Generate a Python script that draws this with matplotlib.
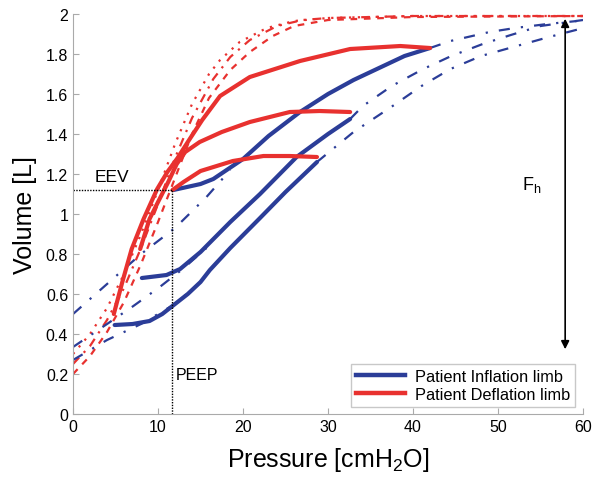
import matplotlib
matplotlib.use("Agg")
import matplotlib.pyplot as plt

plt.rcParams["font.family"] = ["Liberation Sans", "DejaVu Sans"]
plt.rcParams["mathtext.fontset"] = "custom"
plt.rcParams["mathtext.rm"] = "Liberation Sans"

blue = "#2b3d98"
red = "#e8312f"

# measured inflation limbs (pressure cmH2O, volume L)
infl_low_p = [4.9, 7, 9, 10.5, 12, 13.5, 15, 16.1, 18.5, 22, 25, 28.7]
infl_low_v = [0.445, 0.45, 0.465, 0.5, 0.55, 0.6, 0.66, 0.72, 0.83, 0.98, 1.11, 1.26]
infl_mid_p = [8.1, 11, 12.6, 15, 18.5, 22, 26.3, 30, 32.6]
infl_mid_v = [0.68, 0.695, 0.725, 0.81, 0.96, 1.1, 1.285, 1.4, 1.475]
infl_top_p = [11.8, 15, 16.5, 20, 23, 26.7, 30, 33, 36.5, 39, 42]
infl_top_v = [1.12, 1.15, 1.175, 1.275, 1.39, 1.51, 1.6, 1.67, 1.74, 1.79, 1.83]

# measured deflation limbs
defl_top_p = [42, 38.5, 32.6, 26.7, 20.8, 17.3, 15.2, 13.5, 12.3, 11.1, 9.9, 8.3, 6.9, 5.8, 4.8]
defl_top_v = [1.83, 1.84, 1.825, 1.765, 1.685, 1.59, 1.47, 1.36, 1.28, 1.21, 1.125, 0.975, 0.825, 0.66, 0.5]
defl_mid_p = [32.6, 29, 25.5, 20.8, 17.5, 14.9, 13.2, 12.2, 11.2, 10, 9, 7.9]
defl_mid_v = [1.51, 1.515, 1.51, 1.46, 1.41, 1.36, 1.31, 1.25, 1.16, 1.06, 0.975, 0.825]
defl_low_p = [28.7, 25.5, 22.4, 18.8, 15, 13, 11.7]
defl_low_v = [1.285, 1.29, 1.29, 1.265, 1.215, 1.16, 1.12]

# model curves (dashed / dash-dot)
mod_infl1_p = [0, 4, 8, 12, 15.7, 18.5]
mod_infl1_v = [0.5, 0.65, 0.8, 0.93, 1.085, 1.22]
mod_infl2_p = [0, 4, 7.1, 10.2, 12.9, 15.7]
mod_infl2_v = [0.335, 0.45, 0.54, 0.635, 0.725, 0.83]
mod_infl3_p = [0, 2, 4, 8, 12, 15]
mod_infl3_v = [0.27, 0.32, 0.37, 0.45, 0.55, 0.66]

ext_top_p = [42, 44.4, 49, 52, 55.8, 59.3]
ext_top_v = [1.83, 1.865, 1.91, 1.93, 1.95, 1.965]
ext_mid_p = [32.6, 34.1, 37.5, 41.2, 44.5, 48.2, 51.5, 55, 60]
ext_mid_v = [1.475, 1.54, 1.64, 1.725, 1.79, 1.85, 1.895, 1.94, 1.97]
ext_low_p = [28.7, 33, 37.6, 41, 44.4, 48, 52.2, 56, 59.6]
ext_low_v = [1.26, 1.41, 1.54, 1.64, 1.725, 1.79, 1.84, 1.885, 1.925]

mod_def1_p = [0, 2, 4, 6, 8, 10, 12, 14, 16, 17.3, 19.6, 22.8, 26, 30, 40, 60]
mod_def1_v = [0.3, 0.4, 0.53, 0.7, 0.9, 1.12, 1.35, 1.55, 1.7, 1.77, 1.86, 1.93, 1.965, 1.98, 1.99, 1.99]
mod_def2_p = [0, 2, 4, 6, 8, 10, 12, 14, 16.5, 18.5, 20.8, 24, 27, 30, 40, 60]
mod_def2_v = [0.25, 0.34, 0.47, 0.63, 0.83, 1.05, 1.28, 1.48, 1.675, 1.785, 1.87, 1.94, 1.97, 1.98, 1.99, 1.99]
mod_def3_p = [0, 2, 4, 6, 8, 10, 12, 14, 16, 18.5, 20.8, 23.5, 26, 30, 40, 60]
mod_def3_v = [0.2, 0.29, 0.41, 0.56, 0.75, 0.96, 1.18, 1.4, 1.58, 1.72, 1.81, 1.89, 1.94, 1.97, 1.985, 1.99]

peep = 11.7
eev = 1.12
fh_p = 57.9
fh_v = [0.31, 1.99]

fig = plt.figure(figsize=(6, 4.89), dpi=100)
ax = fig.add_axes([0.1217, 0.1513, 0.85, 0.818])

# model curves
ax.plot(mod_def1_p, mod_def1_v, color=red, lw=1.6, linestyle=(0, (1, 3)))
ax.plot(mod_def2_p, mod_def2_v, color=red, lw=1.6, linestyle=(0, (4, 3, 1, 3)))
ax.plot(mod_def3_p, mod_def3_v, color=red, lw=1.6, linestyle=(0, (3, 3)))
for p, v in [(mod_infl1_p, mod_infl1_v), (mod_infl2_p, mod_infl2_v), (mod_infl3_p, mod_infl3_v),
             (ext_top_p, ext_top_v), (ext_mid_p, ext_mid_v), (ext_low_p, ext_low_v)]:
    ax.plot(p, v, color=blue, lw=1.6, linestyle=(0, (5, 5, 1, 5)))

# measured limbs
for p, v in [(infl_low_p, infl_low_v), (infl_mid_p, infl_mid_v), (infl_top_p, infl_top_v)]:
    ax.plot(p, v, color=blue, lw=3.0, solid_capstyle="round")
for p, v in [(defl_top_p, defl_top_v), (defl_mid_p, defl_mid_v), (defl_low_p, defl_low_v)]:
    ax.plot(p, v, color=red, lw=3.0, solid_capstyle="round")

# EEV / PEEP guides
ax.plot([0, peep], [eev, eev], color="black", lw=1, linestyle=(0, (1, 1)))
ax.plot([peep, peep], [0, eev], color="black", lw=1, linestyle=(0, (1, 1)))
ax.text(2.6, eev + 0.03, "EEV", fontsize=12.5, ha="left", va="bottom")
ax.text(peep + 0.4, 0.2, "PEEP", fontsize=11.5, ha="left", va="center")

ax.annotate("", xy=(fh_p, fh_v[1]), xytext=(fh_p, fh_v[0]),
            arrowprops=dict(arrowstyle="<|-|>", color="black", lw=1.2, mutation_scale=12))
ax.text(54.0, 1.15, "F$_{\\mathregular{h}}$", fontsize=13, ha="center", va="center")

legend_handles = [plt.Line2D([], [], color=blue, lw=3.2), plt.Line2D([], [], color=red, lw=3.2)]
ax.legend(legend_handles, ["Patient Inflation limb", "Patient Deflation limb"],
          loc="lower right", bbox_to_anchor=(0.985, 0.018), borderaxespad=0, fontsize=11.8, frameon=True,
          fancybox=False, edgecolor="#bbbbbb", handlelength=3.0, borderpad=0.3, labelspacing=0.2,
          handletextpad=0.6)

ax.set_xlim(0, 60)
ax.set_ylim(0, 2)
ax.set_xticks(range(0, 61, 10))
ax.set_yticks([0, 0.2, 0.4, 0.6, 0.8, 1, 1.2, 1.4, 1.6, 1.8, 2])
ax.set_yticklabels(["0", "0.2", "0.4", "0.6", "0.8", "1", "1.2", "1.4", "1.6", "1.8", "2"])
ax.tick_params(direction="in", length=4, color="#aaaaaa", labelsize=11.5)
for s in ["top", "right"]:
    ax.spines[s].set_visible(False)
for s in ["left", "bottom"]:
    ax.spines[s].set_color("#aaaaaa")
ax.set_xlabel("Pressure [cmH$_2$O]", fontsize=18, labelpad=8)
ax.set_ylabel("Volume [L]", fontsize=18, labelpad=6)

fig.savefig("out.png", dpi=100)
